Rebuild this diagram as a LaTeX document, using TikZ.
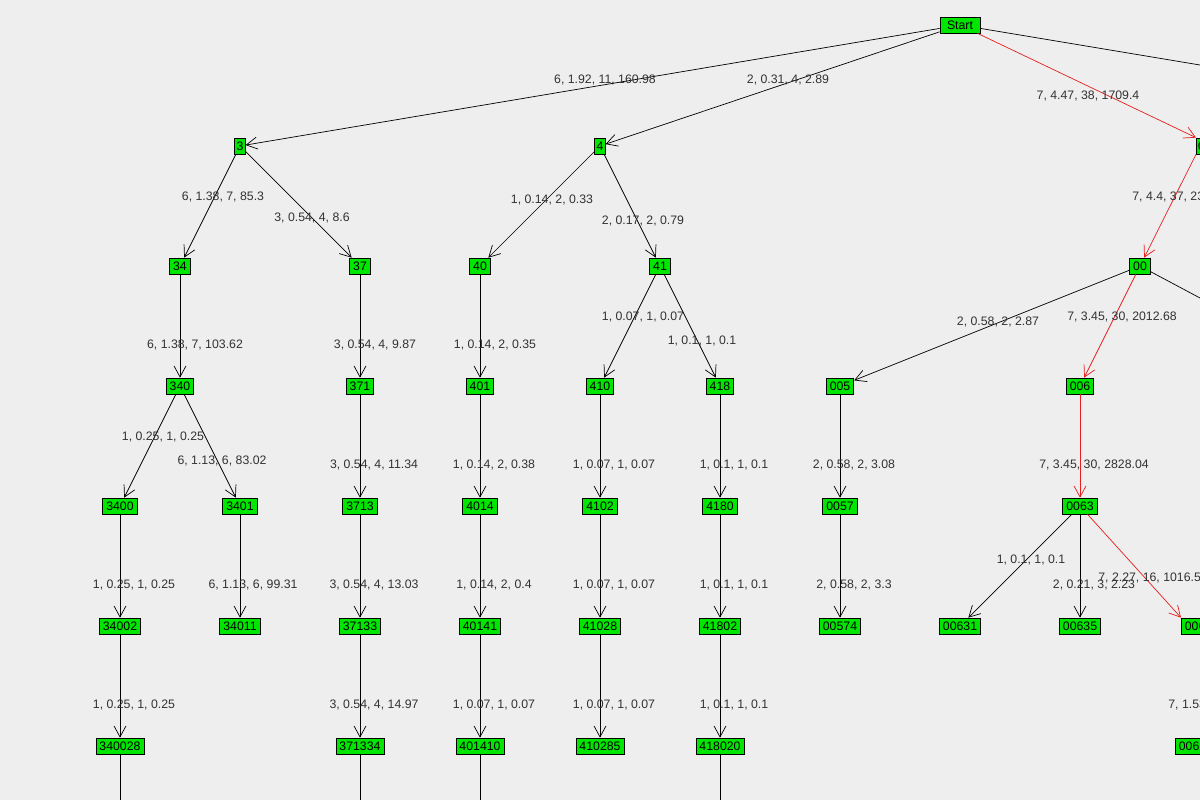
\documentclass[tikz,border=0pt]{standalone}
\usepackage{fontspec}
\setmainfont{Liberation Sans}
\usetikzlibrary{arrows.meta}
\definecolor{bg}{RGB}{238,238,238}
\definecolor{box}{RGB}{0,230,0}
\definecolor{hot}{RGB}{230,30,30}
\definecolor{txt}{RGB}{50,50,50}
\tikzset{
  st/.style={draw=black, fill=box, inner ysep=1.2pt, inner xsep=2pt, minimum height=3.2mm, font=\fontsize{7}{8}\selectfont},
  ed/.style={-{Straight Barb[length=2.2mm, width=2.4mm]}, thin},
  hi/.style={ed, draw=hot},
  lb/.style={text=txt, inner sep=0pt, font=\fontsize{7}{8}\selectfont}
}
\begin{document}
\begin{tikzpicture}[x=0.02cm, y=-0.02cm]
	\fill[bg] (0,0) rectangle (1200,800);
	\useasboundingbox (0,0) rectangle (1200,800);
	\clip (0,0) rectangle (1200,800);
	% nodes
	\node[st, inner xsep=4pt] (s) at (960,25) {Start};
	\node[st, inner xsep=1pt] (n3) at (240,146) {3};
	\node[st, inner xsep=1pt] (n4) at (600,146) {4};
	\node[st, anchor=west, inner xsep=1pt] (n0) at (1196,146) {0};
	\coordinate (r1) at (1200,65);
	\node[st] (n34) at (180,266) {34};
	\node[st] (n37) at (360,266) {37};
	\node[st] (n40) at (480,266) {40};
	\node[st] (n41) at (660,266) {41};
	\node[st] (n00) at (1140,266) {00};
	\coordinate (r2) at (1200,298);
	\node[st] (n340) at (180,386) {340};
	\node[st] (n371) at (360,386) {371};
	\node[st] (n401) at (480,386) {401};
	\node[st] (n410) at (600,386) {410};
	\node[st] (n418) at (720,386) {418};
	\node[st] (n005) at (840,386) {005};
	\node[st] (n006) at (1080,386) {006};
	\node[st] (n3400) at (120,506) {3400};
	\node[st] (n3401) at (240,506) {3401};
	\node[st] (n3713) at (360,506) {3713};
	\node[st] (n4014) at (480,506) {4014};
	\node[st] (n4102) at (600,506) {4102};
	\node[st] (n4180) at (720,506) {4180};
	\node[st] (n0057) at (840,506) {0057};
	\node[st] (n0063) at (1080,506) {0063};
	\node[st] (n34002) at (120,626) {34002};
	\node[st] (n34011) at (240,626) {34011};
	\node[st] (n37133) at (360,626) {37133};
	\node[st] (n40141) at (480,626) {40141};
	\node[st] (n41028) at (600,626) {41028};
	\node[st] (n41802) at (720,626) {41802};
	\node[st] (n00574) at (840,626) {00574};
	\node[st] (n00631) at (960,626) {00631};
	\node[st] (n00635) at (1080,626) {00635};
	\node[st, anchor=west] (n006a) at (1181,626) {006\hspace{4mm}};
	\node[st] (n340028) at (120,746) {340028};
	\node[st] (n371334) at (360,746) {371334};
	\node[st] (n401410) at (480,746) {401410};
	\node[st] (n410285) at (600,746) {410285};
	\node[st] (n418020) at (720,746) {418020};
	\node[st, anchor=west] (n006b) at (1175,746) {006\hspace{4mm}};
	% edges
	\draw[ed] (s) -- (n3);
	\draw[ed] (s) -- (n4);
	\draw[hi] (s) -- (n0.north west);
	\draw (s) -- (r1);
	\draw[ed] (n3) -- (n34);
	\draw[ed] (n3) -- (n37);
	\draw[ed] (n4) -- (n40);
	\draw[ed] (n4) -- (n41);
	\draw[hi] (n0.south west) -- (n00);
	\draw[ed] (n34) -- (n340);
	\draw[ed] (n37) -- (n371);
	\draw[ed] (n40) -- (n401);
	\draw[ed] (n41) -- (n410);
	\draw[ed] (n41) -- (n418);
	\draw[ed] (n00) -- (n005);
	\draw[hi] (n00) -- (n006);
	\draw (n00) -- (r2);
	\draw[ed] (n340) -- (n3400);
	\draw[ed] (n340) -- (n3401);
	\draw[ed] (n371) -- (n3713);
	\draw[ed] (n401) -- (n4014);
	\draw[ed] (n410) -- (n4102);
	\draw[ed] (n418) -- (n4180);
	\draw[ed] (n005) -- (n0057);
	\draw[hi] (n006) -- (n0063);
	\draw[ed] (n3400) -- (n34002);
	\draw[ed] (n3401) -- (n34011);
	\draw[ed] (n3713) -- (n37133);
	\draw[ed] (n4014) -- (n40141);
	\draw[ed] (n4102) -- (n41028);
	\draw[ed] (n4180) -- (n41802);
	\draw[ed] (n0057) -- (n00574);
	\draw[ed] (n0063) -- (n00631);
	\draw[ed] (n0063) -- (n00635);
	\draw[hi] (n0063) -- (n006a.north west);
	\draw[ed] (n34002) -- (n340028);
	\draw[ed] (n37133) -- (n371334);
	\draw[ed] (n40141) -- (n401410);
	\draw[ed] (n41028) -- (n410285);
	\draw[ed] (n41802) -- (n418020);
	\draw (n340028.south) -- ++(0,60);
	\draw (n371334.south) -- ++(0,60);
	\draw (n401410.south) -- ++(0,60);
	\draw (n418020.south) -- ++(0,60);
	% labels
	\node[lb] at (605,80) {6, 1.92, 11, 160.98};
	\node[lb] at (788,80) {2, 0.31, 4, 2.89};
	\node[lb] at (1088,96) {7, 4.47, 38, 1709.4};
	\node[lb] at (223,197) {6, 1.38, 7, 85.3};
	\node[lb] at (312,218) {3, 0.54, 4, 8.6};
	\node[lb] at (552,200) {1, 0.14, 2, 0.33};
	\node[lb] at (643,221) {2, 0.17, 2, 0.79};
	\node[lb, anchor=west] at (1132,197) {7, 4.4, 37, 23};
	\node[lb] at (998,322) {2, 0.58, 2, 2.87};
	\node[lb] at (1122,317) {7, 3.45, 30, 2012.68};
	\node[lb] at (195,345) {6, 1.38, 7, 103.62};
	\node[lb] at (375,345) {3, 0.54, 4, 9.87};
	\node[lb] at (495,345) {1, 0.14, 2, 0.35};
	\node[lb] at (643,317) {1, 0.07, 1, 0.07};
	\node[lb] at (702,341) {1, 0.1, 1, 0.1};
	\node[lb] at (163,437) {1, 0.25, 1, 0.25};
	\node[lb] at (222,461) {6, 1.13, 6, 83.02};
	\node[lb] at (374,465) {3, 0.54, 4, 11.34};
	\node[lb] at (494,465) {1, 0.14, 2, 0.38};
	\node[lb] at (614,465) {1, 0.07, 1, 0.07};
	\node[lb] at (734,465) {1, 0.1, 1, 0.1};
	\node[lb] at (854,465) {2, 0.58, 2, 3.08};
	\node[lb] at (1094,465) {7, 3.45, 30, 2828.04};
	\node[lb] at (134,585) {1, 0.25, 1, 0.25};
	\node[lb] at (253,585) {6, 1.13, 6, 99.31};
	\node[lb] at (374,585) {3, 0.54, 4, 13.03};
	\node[lb] at (494,585) {1, 0.14, 2, 0.4};
	\node[lb] at (614,585) {1, 0.07, 1, 0.07};
	\node[lb] at (734,585) {1, 0.1, 1, 0.1};
	\node[lb] at (854,585) {2, 0.58, 2, 3.3};
	\node[lb] at (1031,560) {1, 0.1, 1, 0.1};
	\node[lb] at (1094,585) {2, 0.21, 3, 2.23};
	\node[lb, anchor=west] at (1098,578) {7, 2.27, 16, 1016.5};
	\node[lb] at (134,705) {1, 0.25, 1, 0.25};
	\node[lb] at (374,705) {3, 0.54, 4, 14.97};
	\node[lb] at (494,705) {1, 0.07, 1, 0.07};
	\node[lb] at (614,705) {1, 0.07, 1, 0.07};
	\node[lb] at (734,705) {1, 0.1, 1, 0.1};
	\node[lb, anchor=west] at (1168,705) {7, 1.53};
\end{tikzpicture}
\end{document}
